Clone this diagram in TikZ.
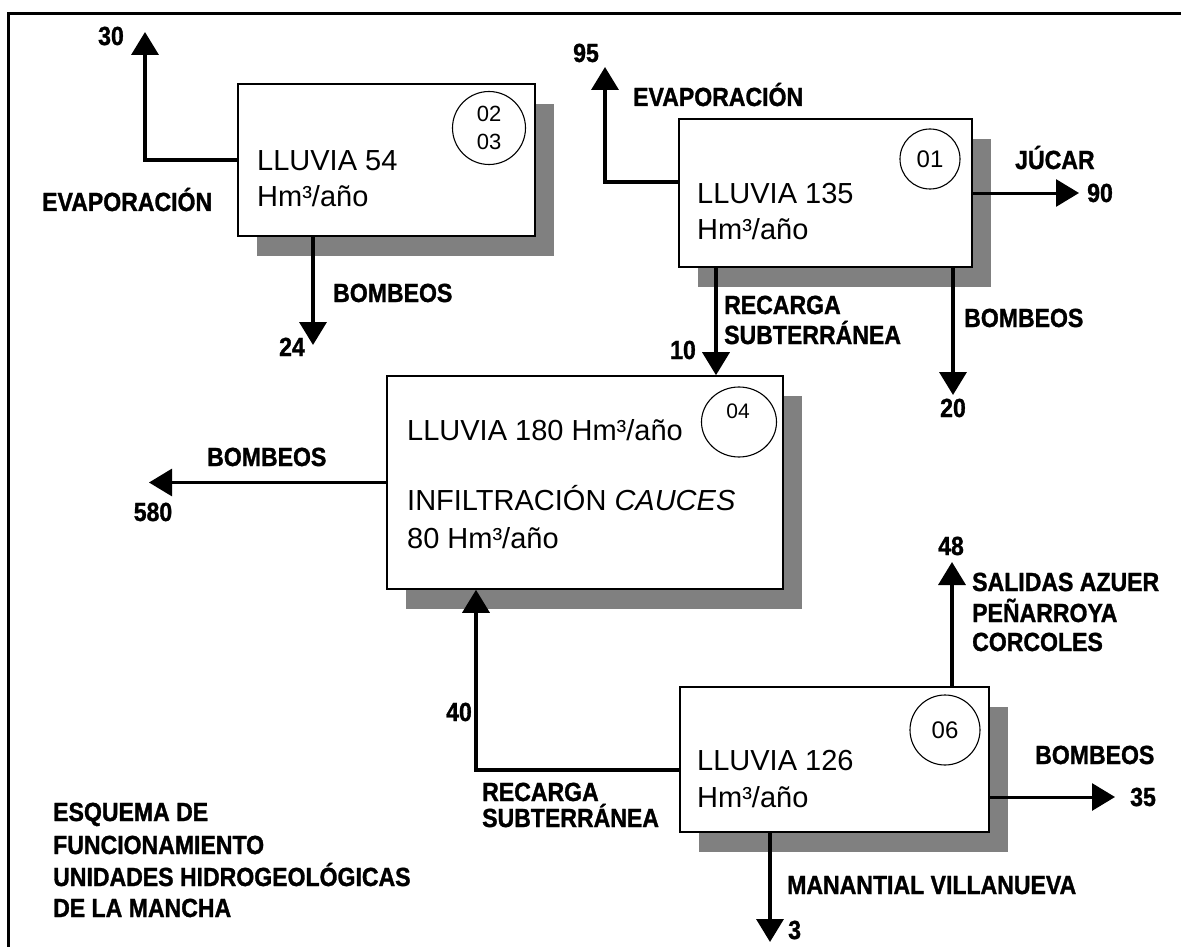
\documentclass[tikz,border=0pt]{standalone}
\usepackage{fontspec}
\setmainfont{Liberation Sans}
\newfontfamily\lblfont{Liberation Sans Bold}[FakeBold=1.2,FakeStretch=0.88]
\usetikzlibrary{arrows.meta,shadows,shapes.geometric}
\definecolor{shadowgray}{HTML}{808080}
\begin{document}
\begin{tikzpicture}[x=1pt,y=-1pt,
  box/.style={draw=black,line width=1.6pt,fill=white,inner sep=0pt,
    general shadow={shadow xshift=19pt,shadow yshift=-20pt,fill=shadowgray,draw=none}},
  tag/.style={draw=black,line width=1.1pt,circle,inner sep=0pt},
  boxtxt/.style={anchor=base west,inner sep=0pt,font=\fontsize{29}{34}\selectfont},
  lbl/.style={anchor=base west,inner sep=0pt,font=\lblfont\fontsize{26.2}{30}\selectfont},
  num/.style={anchor=base,inner sep=0pt,font=\lblfont\fontsize{26.2}{30}\selectfont},
  flow/.style={line width=3.6pt,-{Triangle[length=23pt,width=27pt]}},
  thinflow/.style={line width=3pt,-{Triangle[length=23pt,width=27pt]}}]
\useasboundingbox (0,0) rectangle (1181,947);
\fill[white] (0,0) rectangle (1181,947);
% frame (top and left only)
\draw[line width=3pt] (8,947) -- (8,14) -- (1181,14);

% boxes
\node[box,minimum width=297pt,minimum height=152pt] (bA) at (386.5,160) {};
\node[box,minimum width=293pt,minimum height=148pt] (b01) at (825.5,193) {};
\node[box,minimum width=396pt,minimum height=213pt] (b04) at (585,482.5) {};
\node[box,minimum width=309pt,minimum height=145pt] (b06) at (834.5,759.5) {};

% tags
\node[tag,minimum size=73pt,align=center,font=\fontsize{22}{28}\selectfont] (cA) at (489,128) {02\\03};
\node[tag,minimum size=60pt,font=\fontsize{24}{28}\selectfont] (c01) at (930,159) {01};
\node[draw=black,line width=1.1pt,ellipse,inner sep=0pt,minimum width=75pt,minimum height=70pt,font=\fontsize{21}{28}\selectfont] (c04) at (739,422) {};
\node[inner sep=0pt,anchor=base,font=\fontsize{21}{28}\selectfont] (c04t) at (738,418) {04};
\node[tag,minimum size=70pt,font=\fontsize{24}{28}\selectfont] (c06) at (945,730) {06};

% box texts
\node[boxtxt] (tA1) at (257,171) {LLUVIA 54};
\node[boxtxt] (tA2) at (257,207) {Hm³/año};
\node[boxtxt] (t011) at (697,203) {LLUVIA 135};
\node[boxtxt] (t012) at (697,239) {Hm³/año};
\node[boxtxt] (t041) at (407,440) {LLUVIA 180 Hm³/año};
\node[boxtxt] (t042) at (407,510) {INFILTRACIÓN \textit{CAUCES}};
\node[boxtxt] (t043) at (407,548) {80 Hm³/año};
\node[boxtxt] (t061) at (697,770) {LLUVIA 126};
\node[boxtxt] (t062) at (697,807) {Hm³/año};

% free ends and corners
\coordinate (e30) at (145,32);
\coordinate (e24) at (313,345);
\coordinate (k95) at (605,182);
\coordinate (e95) at (605,67);
\coordinate (e90) at (1079,193);
\coordinate (x10) at (716,300);
\coordinate (e20) at (953,395);
\coordinate (e580) at (149,482.5);
\coordinate (k40) at (476,770);
\coordinate (e48) at (952,562);
\coordinate (e35) at (1115,797);
\coordinate (e3) at (770,942);

% connectors
\draw[flow] (bA.west) -| (e30);
\draw[flow] (bA.south -| e24) -- (e24);
\draw[flow] (b01.west |- k95) -- (k95) -- (e95);
\draw[thinflow] (b01.east) -- (e90);
\draw[flow] (b01.south -| x10) -- (b04.north -| x10);
\draw[flow] (b01.south -| e20) -- (e20);
\draw[thinflow] (b04.west) -- (e580);
\draw[flow] (b06.west |- k40) -- (k40) -- (b04.south -| k40);
\draw[flow] (b06.north -| e48) -- (e48);
\draw[thinflow] (b06.east |- e35) -- (e35);
\draw[flow] (b06.south -| e3) -- (e3);

% labels
\node[num] (n30) at (111,45) {30};
\node[lbl] (lA1) at (42,211) {EVAPORACIÓN};
\node[lbl] (lA2) at (333,302) {BOMBEOS};
\node[num] (n24) at (292,356) {24};
\node[num] (n95) at (586,62) {95};
\node[lbl] (l011) at (633,106) {EVAPORACIÓN};
\node[lbl] (l012) at (1015,169) {JÚCAR};
\node[lbl] (n90) at (1087,202) {90};
\node[lbl] (l013) at (724,314) {RECARGA};
\node[lbl] (l014) at (724,344) {SUBTERRÁNEA};
\node[num] (n10) at (683,359) {10};
\node[lbl] (l015) at (964,327) {BOMBEOS};
\node[num] (n20) at (953,417) {20};
\node[lbl] (l041) at (207,466) {BOMBEOS};
\node[num] (n580) at (153,521) {580};
\node[num] (n40) at (459,721) {40};
\node[lbl] (l061) at (482,801) {RECARGA};
\node[lbl] (l062) at (482,827) {SUBTERRÁNEA};
\node[num] (n48) at (951,555) {48};
\node[lbl] (l063) at (972,591) {SALIDAS AZUER};
\node[lbl] (l064) at (972,622) {PEÑARROYA};
\node[lbl] (l065) at (972,651) {CORCOLES};
\node[lbl] (l066) at (1035,764) {BOMBEOS};
\node[lbl] (n35) at (1130,806) {35};
\node[lbl] (l067) at (787,894) {MANANTIAL VILLANUEVA};
\node[lbl] (n3) at (788,939) {3};

% title
\node[lbl] (ti1) at (53,821) {ESQUEMA DE};
\node[lbl] (ti2) at (53,854) {FUNCIONAMIENTO};
\node[lbl] (ti3) at (53,886) {UNIDADES HIDROGEOLÓGICAS};
\node[lbl] (ti4) at (53,917) {DE LA MANCHA};
\end{tikzpicture}
\end{document}
